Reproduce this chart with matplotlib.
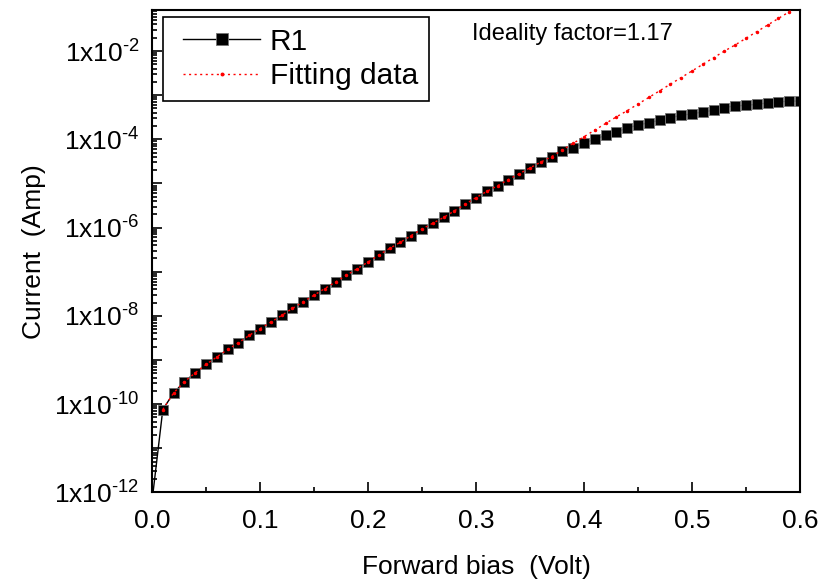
#!/usr/bin/env python3
"""
Forward-bias I-V curve of diode R1 on a log scale, with the ideality-factor fit.
"""

from __future__ import annotations

import matplotlib

matplotlib.use("Agg")

import matplotlib.pyplot as plt
import numpy as np
from matplotlib.legend_handler import HandlerLine2D
from matplotlib.ticker import FixedLocator, FuncFormatter, LogLocator, MultipleLocator


VOLTAGE = [
    0.00, 0.01, 0.02, 0.03, 0.04, 0.05, 0.06, 0.07, 0.08, 0.09,
    0.10, 0.11, 0.12, 0.13, 0.14, 0.15, 0.16, 0.17, 0.18, 0.19,
    0.20, 0.21, 0.22, 0.23, 0.24, 0.25, 0.26, 0.27, 0.28, 0.29,
    0.30, 0.31, 0.32, 0.33, 0.34, 0.35, 0.36, 0.37, 0.38, 0.39,
    0.40, 0.41, 0.42, 0.43, 0.44, 0.45, 0.46, 0.47, 0.48, 0.49,
    0.50, 0.51, 0.52, 0.53, 0.54, 0.55, 0.56, 0.57, 0.58, 0.59,
    0.60,
]

R1_LOG_CURRENT = [
    -12.20, -10.12, -9.745, -9.49, -9.29, -9.10, -8.93, -8.76, -8.61, -8.44,
    -8.29, -8.14, -7.99, -7.83, -7.68, -7.53, -7.38, -7.23, -7.08, -6.93,
    -6.78, -6.62, -6.47, -6.33, -6.18, -6.03, -5.90, -5.77, -5.62, -5.47,
    -5.32, -5.18, -5.05, -4.91, -4.78, -4.645, -4.515, -4.39, -4.27, -4.19,
    -4.08, -4.00, -3.91, -3.83, -3.74, -3.68, -3.62, -3.57, -3.51, -3.455,
    -3.42, -3.38, -3.34, -3.28, -3.24, -3.23, -3.205, -3.175, -3.15, -3.135,
    -3.13,
]

FIT_VOLTAGE = VOLTAGE[1:]
# log10 of fitted current (A)
FIT_LOG_CURRENT = [
    -10.12, -9.745, -9.49, -9.29, -9.10, -8.93, -8.76, -8.61, -8.44,
    -8.29, -8.14, -7.99, -7.83, -7.68, -7.53, -7.38, -7.23, -7.08, -6.93,
    -6.78, -6.62, -6.47, -6.33, -6.18, -6.03, -5.90, -5.77, -5.62, -5.47,
    -5.32, -5.18, -5.05, -4.91, -4.78, -4.645, -4.515, -4.39, -4.24, -4.09,
    -3.94, -3.79, -3.64, -3.49, -3.35, -3.20, -3.05, -2.90, -2.75, -2.60,
    -2.45, -2.30, -2.15, -2.00, -1.86, -1.71, -1.56, -1.41, -1.26, -1.11,
    -0.96,
]

X_TICKS = [0.0, 0.1, 0.2, 0.3, 0.4, 0.5, 0.6]
IDEALITY_TEXT = "Ideality factor=1.17"


def log_label(value: float, _pos) -> str:
    if value <= 0:
        return ""
    exponent = int(round(np.log10(value)))
    if exponent % 2 != 0:
        return ""
    # plain hyphen in the exponent, as in the original figure
    sign = r"\text{-}" if exponent < 0 else ""
    return f"1x10$^{{{sign}{abs(exponent)}}}$"


def main() -> None:
    plt.rcParams["font.family"] = ["Liberation Sans", "DejaVu Sans"]
    plt.rcParams["mathtext.fontset"] = "custom"
    plt.rcParams["mathtext.rm"] = "Liberation Sans"
    plt.rcParams["mathtext.default"] = "regular"

    fig = plt.figure(figsize=(8.23, 5.82), dpi=100)
    ax = fig.add_axes([0.1847, 0.1538, 0.7874, 0.8290])

    r1_current = 10.0 ** np.array(R1_LOG_CURRENT)
    fit_current = 10.0 ** np.array(FIT_LOG_CURRENT)

    (r1_line,) = ax.plot(
        VOLTAGE,
        r1_current,
        color="black",
        linewidth=1.0,
        marker="s",
        markersize=7.6,
        markerfacecolor="black",
        markeredgecolor="0.45",
        markeredgewidth=0.6,
        label="R1",
        zorder=2,
    )
    (fit_line,) = ax.plot(
        FIT_VOLTAGE,
        fit_current,
        color="red",
        linestyle=(0, (1.5, 2.5)),
        linewidth=1.0,
        marker=".",
        markersize=3,
        label="Fitting data",
        zorder=3,
    )

    ax.set_yscale("log")
    ax.set_xlim(0.0, 0.6)
    ax.set_ylim(1e-12, 10 ** -1.07)

    ax.xaxis.set_major_locator(FixedLocator(X_TICKS))
    ax.xaxis.set_minor_locator(MultipleLocator(0.05))
    ax.xaxis.set_major_formatter(FuncFormatter(lambda v, _p: f"{v:.1f}"))
    ax.yaxis.set_major_locator(LogLocator(base=10.0, numticks=30))
    ax.yaxis.set_minor_locator(LogLocator(base=10.0, subs=np.arange(2, 10), numticks=30))
    ax.yaxis.set_major_formatter(FuncFormatter(log_label))
    ax.yaxis.set_minor_formatter(FuncFormatter(lambda v, _p: ""))

    ax.tick_params(axis="both", which="both", direction="in", width=1.2, labelsize=19)
    ax.tick_params(axis="both", which="major", length=7)
    ax.tick_params(axis="both", which="minor", length=3.5)
    ax.tick_params(axis="x", which="major", pad=12)
    ax.tick_params(axis="y", which="major", pad=9)

    for spine in ax.spines.values():
        spine.set_linewidth(1.5)

    ax.set_xlabel("Forward bias  (Volt)", fontsize=19, labelpad=16)
    ax.set_ylabel("Current  (Amp)", fontsize=19, labelpad=6)

    # xpad trims the left end of each legend handle, leaving a gap to the frame
    handlers = {r1_line: HandlerLine2D(xpad=0.31), fit_line: HandlerLine2D(xpad=0.31)}
    legend = ax.legend(
        handler_map=handlers,
        loc="upper left",
        bbox_to_anchor=(0.0165, 0.986),
        fontsize=21.5,
        frameon=True,
        fancybox=False,
        framealpha=1.0,
        edgecolor="black",
        handlelength=2.89,
        handletextpad=0.33,
        markerscale=1.2,
        borderpad=0.37,
        labelspacing=0.22,
        borderaxespad=0.0,
    )
    legend.get_frame().set_linewidth(1.2)

    ax.text(0.494, 0.95, IDEALITY_TEXT, transform=ax.transAxes, fontsize=17, va="center", ha="left")

    fig.savefig("out.png", dpi=100)
    plt.close(fig)


if __name__ == "__main__":
    main()
